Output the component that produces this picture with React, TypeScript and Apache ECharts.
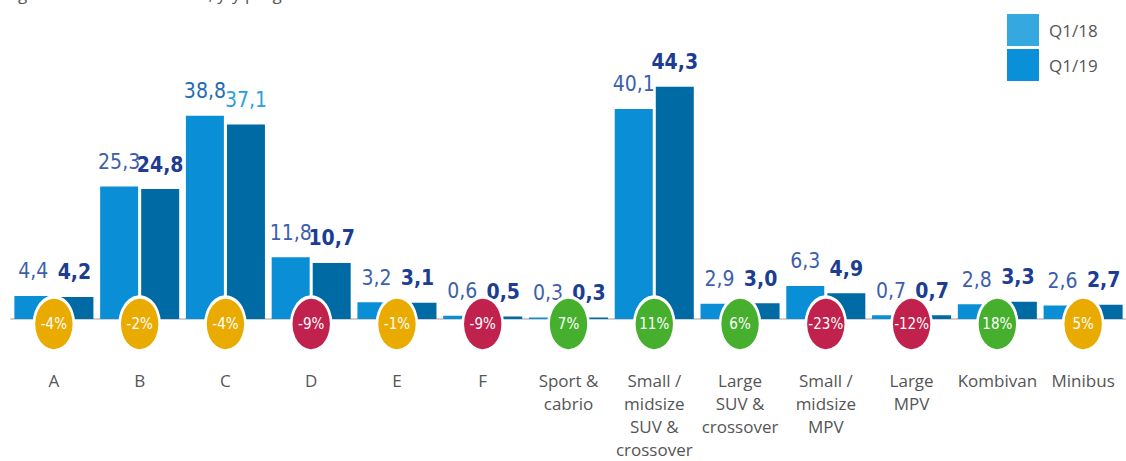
import React, { useEffect, useRef } from "react";
import * as echarts from "echarts";

const categories = [
  "A",
  "B",
  "C",
  "D",
  "E",
  "F",
  "Sport &\ncabrio",
  "Small /\nmidsize\nSUV &\ncrossover",
  "Large\nSUV &\ncrossover",
  "Small /\nmidsize\nMPV",
  "Large\nMPV",
  "Kombivan",
  "Minibus",
];
const q118 = [4.4, 25.3, 38.8, 11.8, 3.2, 0.6, 0.3, 40.1, 2.9, 6.3, 0.7, 2.8, 2.6];
const q119 = [4.2, 24.8, 37.1, 10.7, 3.1, 0.5, 0.3, 44.3, 3.0, 4.9, 0.7, 3.3, 2.7];
const changePct = [-4, -2, -4, -9, -1, -9, 7, 11, 6, -23, -12, 18, 5];

const NARROW = '"Liberation Sans Narrow", "DejaVu Sans Condensed", "Roboto", sans-serif';
const ORANGE = "#e9ab00";
const RED = "#c0214d";
const GREEN = "#46b02e";

const fmt = (v: number) => v.toFixed(1).replace(".", ",");
const changeColor = (v: number) => (v >= 6 ? GREEN : v <= -5 ? RED : ORANGE);

export default function App() {
  const ref = useRef<HTMLDivElement>(null);
  useEffect(() => {
    if (!ref.current) return;
    const chart = echarts.init(ref.current, null, { renderer: "svg" });
    chart.setOption({
      animation: false,
      graphic: [
        {
          type: "text",
          left: -2,
          top: -15,
          style: {
            text: "Registrations in thousands, y/y progress",
            font: '17px "Open Sans", sans-serif',
            fill: "#555",
          },
        },
      ],
      legend: {
        orient: "vertical",
        left: 1002,
        top: 9,
        itemWidth: 32,
        itemHeight: 32,
        itemGap: 3,
        icon: "rect",
        textStyle: { fontSize: 17, color: "#555", fontFamily: "Open Sans, sans-serif", padding: [0, 0, 0, 5] },
        data: [
          { name: "Q1/18", itemStyle: { color: "#35a8e0" } },
          { name: "Q1/19", itemStyle: { color: "#0a90d8" } },
        ],
      },
      grid: { left: 11, width: 1122, top: 57, bottom: 138, containLabel: false },
      xAxis: {
        type: "category",
        data: categories,
        axisLine: { show: true, lineStyle: { color: "#cfcfcf", width: 2 } },
        axisTick: { show: false },
        axisLabel: {
          interval: 0,
          margin: 50,
          fontSize: 17,
          lineHeight: 23,
          color: "#555",
          fontFamily: "Open Sans, sans-serif",
          align: "center",
          verticalAlign: "top",
        },
      },
      yAxis: { type: "value", min: 0, max: 50, show: false, splitLine: { show: false } },
      series: [
        {
          name: "Q1/18",
          type: "bar",
          barWidth: 38,
          barGap: "8%",
          itemStyle: { color: "#0a8fd6" },
          data: q118.map((v, i) => ({
            value: v,
            label: i === 2 ? { color: "#1e6db0" } : undefined,
          })),
          label: {
            show: true,
            position: "top",
            distance: 14,
            formatter: (p: any) => fmt(p.value),
            fontSize: 21,
            fontFamily: NARROW,
            color: "#3d5fab",
          },
        },
        {
          name: "Q1/19",
          type: "bar",
          barWidth: 38,
          barGap: "8%",
          itemStyle: { color: "#006aa5" },
          data: q119.map((v, i) => ({
            value: v,
            label: i === 2 ? { color: "#2a9fe0", fontWeight: "normal" } : undefined,
          })),
          label: {
            show: true,
            position: "top",
            distance: 14,
            formatter: (p: any) => fmt(p.value),
            fontSize: 21,
            fontWeight: "bold",
            fontFamily: NARROW,
            color: "#1c3d92",
          },
        },
        {
          name: "change",
          type: "scatter",
          z: 5,
          symbol: "circle",
          symbolSize: [40, 54],
          symbolOffset: [0, 5],
          itemStyle: { opacity: 1 },
          data: changePct.map((v) => ({
            value: 0,
            itemStyle: { color: changeColor(v), borderColor: "#fff", borderWidth: 3, opacity: 1 },
            label: { formatter: `${v}%` },
          })),
          label: {
            show: true,
            position: "inside",
            color: "#fff",
            fontSize: 15,
            fontFamily: NARROW,
          },
          emphasis: { disabled: true },
        },
      ],
    });
    return () => chart.dispose();
  }, []);
  return (
    <div
      ref={ref}
      style={{ position: "fixed", left: 0, top: 0, width: 1126, height: 461, background: "#fff" }}
    />
  );
}
